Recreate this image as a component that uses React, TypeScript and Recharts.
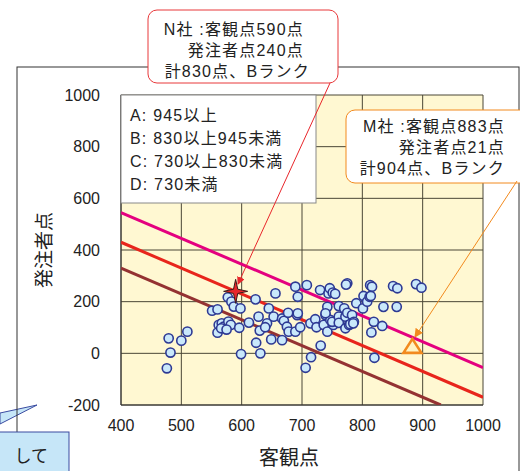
import React from "react";
import { CartesianGrid, Scatter, ScatterChart, XAxis, YAxis } from "recharts";

const xTicks = [400, 500, 600, 700, 800, 900, 1000];
const yTicks = [-200, 0, 200, 400, 600, 800, 1000];

// 客観点, 発注者点
const companies = [
  [479, 58], [482, 3], [476, -58], [500, 49], [510, 84],
  [551, 165], [560, 170], [577, 217], [583, 200], [587, 181], [598, 174],
  [562, 110], [567, 116], [570, 103], [578, 123], [582, 110], [560, 80],
  [566, 97], [575, 92], [596, 99], [599, -3],
  [612, 119], [623, 209], [628, 142], [624, 41], [630, 88], [631, 0],
  [645, 174], [642, 116], [639, 101], [649, 54], [656, 232], [653, 142],
  [667, 135], [667, 51], [670, 126], [675, 103], [678, 84], [677, 157],
  [689, 258], [689, 84], [692, 148], [693, 219], [693, 155], [697, 101],
  [708, 264], [714, 116], [715, -15], [706, -56], [722, 132], [724, 101],
  [731, 30], [730, 245], [736, 110], [739, 148], [742, 180], [744, 232],
  [746, 252], [751, 235], [755, 230], [742, 84], [747, 129], [752, 110],
  [750, 122], [739, 155], [761, 183], [761, 142], [761, 118],
  [770, 174], [772, 142], [775, 157], [775, 271], [773, 266], [772, 97],
  [778, 110], [780, 113], [783, 148], [786, 122], [785, 116], [790, 194],
  [801, 174], [802, 222], [808, 200], [812, 219], [813, 264], [816, 258],
  [815, 81], [819, 122], [820, -17], [814, 222],
  [833, 106], [835, 180], [851, 260], [858, 252], [857, 180], [889, 268], [898, 254],
].map(([x, y]) => ({ x, y }));

const nCompany = [{ x: 590, y: 240 }];
const mCompany = [{ x: 883, y: 21 }];

// 客観点+発注者点 のランク境界
const rankBorders = [945, 830, 730];
const rankColors = ["#e4007f", "#e8251c", "#943232"];

const legendLines = ["A: 945以上", "B: 830以上945未満", "C: 730以上830未満", "D: 730未満"];
const nNote = ["N社 :客観点590点", "発注者点240点", "計830点、Bランク"];
const mNote = ["M社 :客観点883点", "発注者点21点", "計904点、Bランク"];

const borderLine = (t: number) => [
  { x: 400, y: t - 400 },
  { x: Math.min(1000, t + 200), y: Math.max(-200, t - 1000) },
];

const font = "'Liberation Sans', 'Noto Sans CJK JP', sans-serif";

function Dot(props: any) {
  const { cx, cy } = props;
  return <circle cx={cx} cy={cy} r={4.6} fill="#c9e8fb" stroke="#2e3a94" strokeWidth={1.6} />;
}

function Star(props: any) {
  const { cx, cy } = props;
  const pts: string[] = [];
  for (let i = 0; i < 8; i++) {
    const r = i % 2 === 0 ? 12 : 3;
    const a = (Math.PI / 4) * i - Math.PI / 2;
    pts.push(`${cx + r * Math.cos(a)},${cy + r * Math.sin(a)}`);
  }
  return <polygon points={pts.join(" ")} fill="#e8262b" stroke="#3a1a1a" strokeWidth={1} />;
}

function Triangle(props: any) {
  const { cx, cy } = props;
  return (
    <polygon
      points={`${cx},${cy - 9} ${cx - 9},${cy + 5} ${cx + 9},${cy + 5}`}
      fill="#fff4c4"
      stroke="#f28a1e"
      strokeWidth={2.6}
    />
  );
}

const Nothing = () => <g />;

export default function App() {
  return (
    <div style={{ position: "absolute", left: 0, top: 0, width: 520, height: 471, background: "#fff", fontFamily: font }}>
      <svg width={520} height={471} style={{ position: "absolute", left: 0, top: 0 }}>
        <polygon points="0,413 37,405 0,424" fill="#c6e6f8" stroke="#3a4aa0" strokeWidth={1} />
        <rect x={17} y={67} width={502} height={420} fill="none" stroke="#333" strokeWidth={1} />
      </svg>
      <ScatterChart
        width={520}
        height={471}
        margin={{ top: 95, right: 37, bottom: 36, left: 61 }}
        style={{ position: "absolute", left: 0, top: 0 }}
      >
        <CartesianGrid fill="#fff8d2" stroke="#4a4636" strokeWidth={1} strokeOpacity={1} />
        <XAxis
          type="number"
          dataKey="x"
          domain={[400, 1000]}
          ticks={xTicks}
          height={30}
          tickLine={false}
          tickSize={0}
          tickMargin={15}
          axisLine={{ stroke: "#333" }}
          tick={{ fill: "#222", fontSize: 16, fontFamily: font }}
          allowDataOverflow
        />
        <YAxis
          type="number"
          dataKey="y"
          domain={[-200, 1000]}
          ticks={yTicks}
          width={60}
          tickLine={false}
          tickSize={0}
          tickMargin={21}
          axisLine={{ stroke: "#333" }}
          tick={{ fill: "#222", fontSize: 16, fontFamily: font }}
          allowDataOverflow
        />
        {rankBorders.map((t, i) => (
          <Scatter
            key={t}
            data={borderLine(t)}
            line={{ stroke: rankColors[i], strokeWidth: 3 }}
            shape={Nothing}
            isAnimationActive={false}
          />
        ))}
        <Scatter data={companies} shape={Dot} isAnimationActive={false} />
        <Scatter data={mCompany} shape={Triangle} isAnimationActive={false} />
        <Scatter data={nCompany} shape={Star} isAnimationActive={false} />
      </ScatterChart>
      <svg width={520} height={471} style={{ position: "absolute", left: 0, top: 0, pointerEvents: "none" }}>
        <defs>
          <marker id="arrRed" markerWidth="8" markerHeight="8" refX="7" refY="4" orient="auto" markerUnits="userSpaceOnUse">
            <path d="M0,0 L8,4 L0,8 z" fill="#e8262b" />
          </marker>
          <marker id="arrOrange" markerWidth="9" markerHeight="9" refX="8" refY="4.5" orient="auto" markerUnits="userSpaceOnUse">
            <path d="M0,0 L9,4.5 L0,9 z" fill="#f28a1e" />
          </marker>
        </defs>
        {/* 凡例 */}
        <rect x={121} y={95} width={195} height={108} fill="#fff" stroke="#888" strokeWidth={1} />
        {legendLines.map((s, i) => (
          <text key={s} x={130} y={121 + i * 23} fontSize={16} letterSpacing={1.2} fill="#222" fontFamily={font}>
            {s}
          </text>
        ))}
        {/* N社 */}
        <rect x={148} y={10} width={190} height={73} rx={9} fill="#fff" stroke="#e8383a" strokeWidth={1} />
        {nNote.map((s, i) => (
          <text key={s} x={i === 2 ? 310 : 304} y={35 + i * 21} fontSize={16} letterSpacing={1.2} fill="#222" textAnchor="end" fontFamily={font}>
            {s}
          </text>
        ))}
        <line x1={330} y1={83} x2={238} y2={284} stroke="#e8262b" strokeWidth={1} markerEnd="url(#arrRed)" />
        {/* M社 */}
        <rect x={346} y={110} width={185} height={73} rx={9} fill="#fff" stroke="#f28a1e" strokeWidth={1} />
        {mNote.map((s, i) => (
          <text key={s} x={505} y={132 + i * 21} fontSize={16} letterSpacing={1.2} fill="#222" textAnchor="end" fontFamily={font}>
            {s}
          </text>
        ))}
        <line x1={517} y1={181} x2={415} y2={337} stroke="#f28a1e" strokeWidth={1} markerEnd="url(#arrOrange)" />
        {/* 軸タイトル */}
        <text x={289} y={465} fontSize={20} fill="#222" textAnchor="middle" fontFamily={font}>
          客観点
        </text>
        <text x={51} y={250} fontSize={19} fill="#222" textAnchor="middle" fontFamily={font} transform="rotate(-90 51 250)">
          発注者点
        </text>
        {/* 下の吹き出し */}
        <rect x={-2} y={432} width={71} height={45} fill="#c6e6f8" stroke="#3a4aa0" strokeWidth={1} />
        <text x={48} y={462} fontSize={17} fill="#222" textAnchor="end" fontFamily={font}>
          して
        </text>
      </svg>
    </div>
  );
}
